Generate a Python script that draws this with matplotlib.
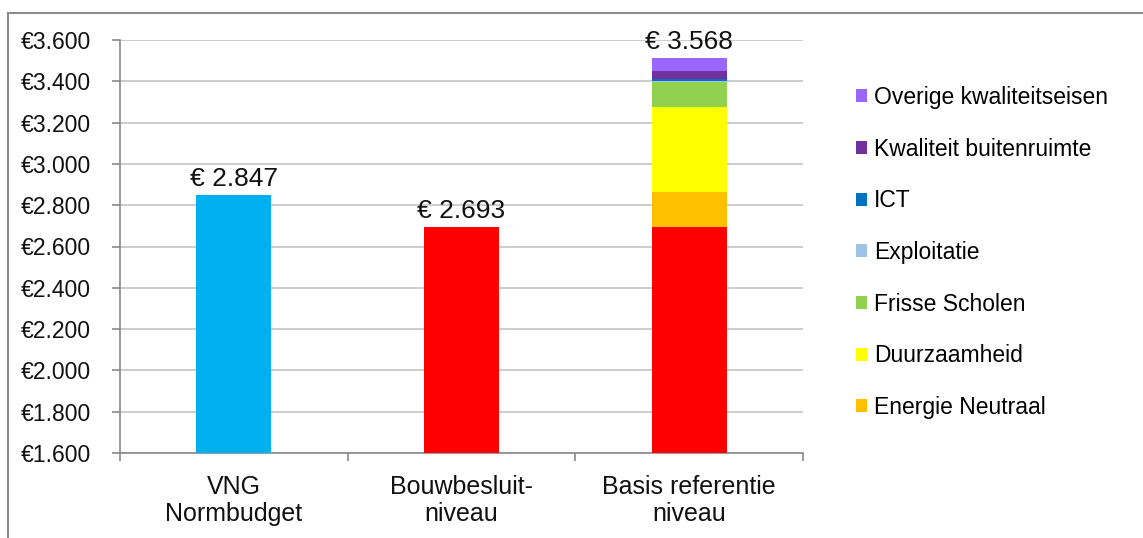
import matplotlib
matplotlib.use('Agg')
import matplotlib.pyplot as plt
from matplotlib.ticker import FuncFormatter, MultipleLocator
from matplotlib.lines import Line2D
from matplotlib.patches import Patch

plt.rcParams['font.family'] = ['Liberation Sans', 'DejaVu Sans']

categories = ['VNG\nNormbudget', 'Bouwbesluit-\nniveau', 'Basis referentie\nniveau']
base_values = [2847, 2693, 2693]
base_colors = ['#00B0F0', '#FF0000', '#FF0000']
total_labels = ['€ 2.847', '€ 2.693', '€ 3.568']

# extra lagen op de derde kolom (van onder naar boven)
layer_names = ['Energie Neutraal', 'Duurzaamheid', 'Frisse Scholen', 'Exploitatie',
               'ICT', 'Kwaliteit buitenruimte', 'Overige kwaliteitseisen']
layer_values = [169, 415, 120, 3, 10, 41, 63]
layer_colors = ['#FFC000', '#FFFF00', '#92D050', '#9DC3E6', '#0070C0', '#7030A0', '#9966FF']

fig = plt.figure(figsize=(11.43, 5.38), dpi=100)
ax = fig.add_axes([120 / 1143, 85 / 538, 683 / 1143, 413 / 538])

x = range(len(categories))
bw = 0.33
ax.bar(x, [v - 1600 for v in base_values], bottom=1600, width=bw, color=base_colors, zorder=3)

bottom = base_values[2]
for name, val, col in zip(layer_names, layer_values, layer_colors):
    ax.bar(2, val, bottom=bottom, width=bw, color=col, zorder=3)
    bottom += val

tops = [base_values[0], base_values[1], bottom]
for i, (t, lab) in enumerate(zip(tops, total_labels)):
    ax.annotate(lab, (i, t), xytext=(0, 3), textcoords='offset points',
                ha='center', va='bottom', fontsize=19, color='#111111')

ax.set_ylim(1600, 3600)
ax.set_xlim(-0.5, 2.5)
ax.yaxis.set_major_locator(MultipleLocator(200))
ax.yaxis.set_major_formatter(FuncFormatter(lambda v, p: '€' + f'{v:,.0f}'.replace(',', '.')))
ax.grid(axis='y', color='#c8c8c8', linewidth=1.3, zorder=0)
ax.set_axisbelow(True)

ax.set_xticks([-0.5, 0.5, 1.5, 2.5])
ax.set_xticklabels([])
ax.set_xticks(list(x), minor=True)
ax.set_xticklabels(categories, minor=True, fontsize=18, color='#111111', linespacing=1.12)
ax.tick_params(axis='x', which='minor', length=0, pad=16)
ax.tick_params(axis='x', which='major', length=6, color='#898989', width=1.2)
ax.tick_params(axis='y', length=6, color='#898989', width=1.2, pad=15, labelsize=16.5, labelcolor='#111111')

for s in ['top', 'right']:
    ax.spines[s].set_visible(False)
for s in ['left', 'bottom']:
    ax.spines[s].set_color('#898989')
    ax.spines[s].set_linewidth(1.2)

# legenda (bovenste laag eerst)
handles = [Patch(facecolor=c, edgecolor='none') for c in layer_colors[::-1]]
fig.legend(handles, layer_names[::-1], loc='upper left', bbox_to_anchor=(856 / 1143, 1 - 86 / 538),
           frameon=False, fontsize=16.5, handlelength=0.5, handleheight=0.5, handletextpad=0.3,
           labelspacing=1.25, borderpad=0, borderaxespad=0)

# rand van de grafiek
fig.add_artist(Line2D([8 / 1143, 8 / 1143], [0, 1 - 13 / 538], color='#8c8c8c', linewidth=1.5))
fig.add_artist(Line2D([8 / 1143, 1], [1 - 13 / 538, 1 - 13 / 538], color='#8c8c8c', linewidth=1.5))

fig.savefig('out.png', dpi=100)
